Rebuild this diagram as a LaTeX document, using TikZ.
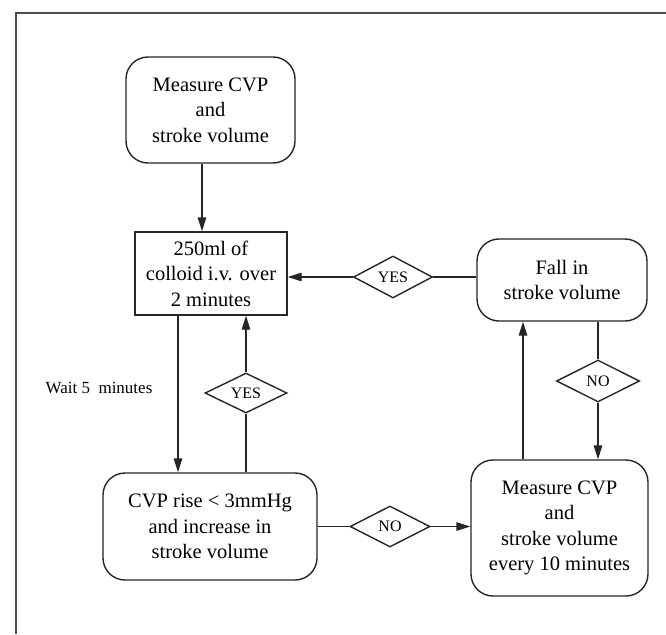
\documentclass[tikz,border=0pt]{standalone}
\usepackage{fontspec}
\setmainfont{Liberation Serif}
\usetikzlibrary{shapes.geometric,arrows.meta,calc}
\begin{document}
\begin{tikzpicture}[x=1pt,y=-1pt,
  box/.style={draw=black!85, line width=1.4pt, rounded corners=22pt, align=center, inner sep=0pt, font=\fontsize{20.5}{25.5}\selectfont},
  sqbox/.style={draw=black!85, line width=1.4pt, align=center, inner sep=0pt, font=\fontsize{20.5}{25.5}\selectfont},
  choice/.style={diamond, draw=black!85, line width=1.4pt, inner sep=0pt, aspect=1.9, font=\fontsize{16}{18}\selectfont},
  ln/.style={draw=black!85, line width=1.4pt},
  arr/.style={draw=black!85, line width=1.4pt, -{Triangle[length=14pt,width=8.5pt]}}
]
\useasboundingbox (0,0) rectangle (666,634);
\fill[white] (0,0) rectangle (666,634);
\draw[black!70, line width=1.8pt] (666,13) -- (16,13) -- (16,634);

\node[box, minimum width=169pt, minimum height=106pt] (top) at (210.5,110) {Measure CVP\\and\\stroke volume};
\node[sqbox, minimum width=152pt, minimum height=83pt] (rect) at (211,273.5) {250ml of\\colloid i.v. over\\2 minutes};
\node[box, minimum width=170pt, minimum height=82pt] (fall) at (562,280) {Fall in\\stroke volume};
\node[box, minimum width=214pt, minimum height=107pt] (cvp) at (210,526.5) {CVP rise < 3mmHg\\and increase in\\stroke volume};
\node[box, minimum width=177pt, minimum height=136pt] (meas) at (559.5,528) {Measure CVP\\and\\stroke volume\\every 10 minutes};

\node[choice, minimum width=79pt, minimum height=42pt] (yes1) at (393,277) {YES};
\node[choice, minimum width=82pt, minimum height=40pt] (yes2) at (246,393) {YES};
\node[choice, minimum width=80pt, minimum height=41pt] (no1) at (390,526.5) {NO};
\node[choice, minimum width=83pt, minimum height=42pt] (no2) at (598,381) {NO};

\node[font=\fontsize{17}{20}\selectfont, inner sep=0pt] (wait) at (99,388) {Wait 5\ \ minutes};

\draw[arr] ([xshift=-8.5pt]top.south) -- ([xshift=-8.5pt]top.south |- rect.north);
\draw[ln] (yes1.east -| fall.west) -- (yes1.east);
\draw[arr] (yes1.west) -- (yes1.west -| rect.east);
\draw[arr] ([xshift=-33pt]rect.south) -- ([xshift=-33pt]rect.south |- cvp.north);
\draw[ln] (cvp.north -| yes2.south) -- (yes2.south);
\draw[arr] (yes2.north) -- (yes2.north |- rect.south);
\draw[ln] (no1.west -| cvp.east) -- (no1.west);
\draw[arr] (no1.east) -- (no1.east -| meas.west);
\draw[arr] ([xshift=-36.5pt]meas.north) -- ([xshift=-36.5pt]meas.north |- fall.south);
\draw[ln] (fall.south -| no2.north) -- (no2.north);
\draw[arr] (no2.south) -- (no2.south |- meas.north);
\end{tikzpicture}
\end{document}
